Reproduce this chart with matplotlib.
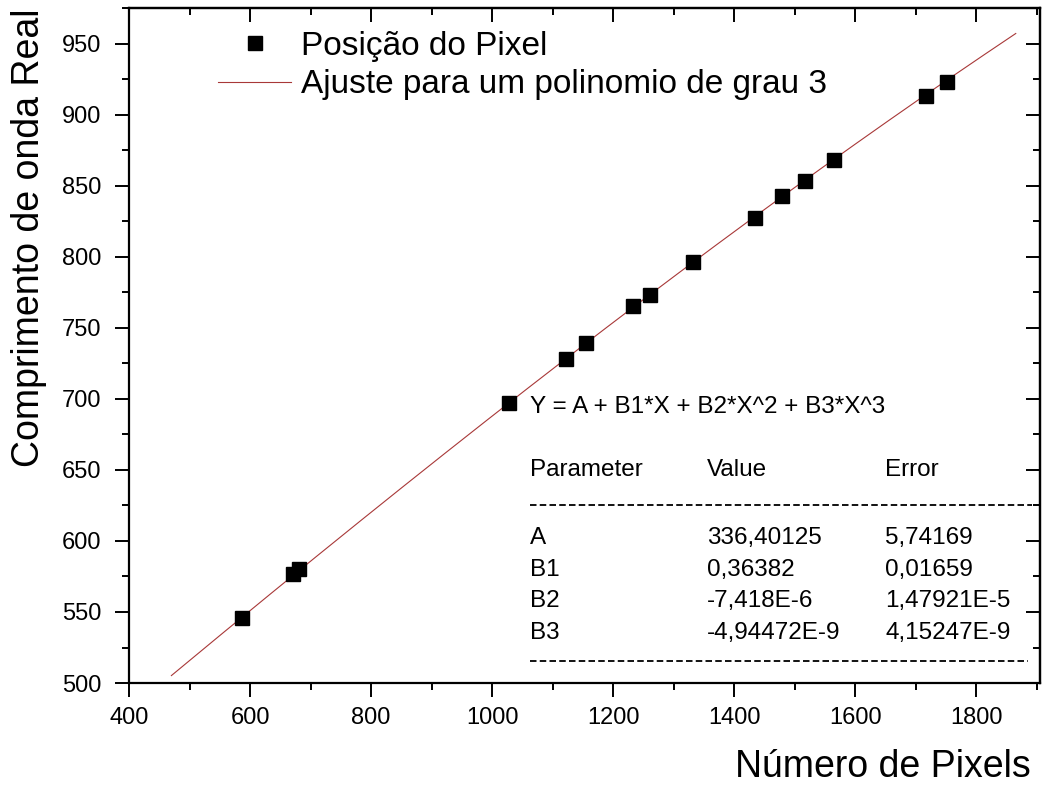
import numpy as np
import matplotlib
matplotlib.use("Agg")
import matplotlib.pyplot as plt
from matplotlib.ticker import MultipleLocator
from matplotlib.lines import Line2D

plt.rcParams['font.family'] = ['Liberation Sans', 'DejaVu Sans']

# ---- data ----
pixel_x = [587, 671, 681, 1027, 1122, 1155, 1233, 1261, 1331, 1435, 1479, 1517, 1564, 1717, 1752]
wavelength_y = [546, 577, 580, 697, 728, 739, 765, 773, 796, 827, 843, 853, 868, 913, 923]

param_names = ["A", "B1", "B2", "B3"]
param_values = [336.40125, 0.36382, -7.418e-6, -4.94472e-9]
param_value_text = ["336,40125", "0,36382", "-7,418E-6", "-4,94472E-9"]
param_error_text = ["5,74169", "0,01659", "1,47921E-5", "4,15247E-9"]
fit_range = [470, 1865]

equation = "Y = A + B1*X + B2*X^2 + B3*X^3"
legend_labels = ["Posição do Pixel", "Ajuste para um polinomio de grau 3"]
xlabel = "Número de Pixels"
ylabel = "Comprimento de onda Real"

# ---- figure ----
fig = plt.figure(figsize=(10.43, 7.90), dpi=100)
ax = fig.add_axes([0.1237, 0.1354, 0.9971 - 0.1237, 0.9899 - 0.1354])

xfit = np.linspace(fit_range[0], fit_range[1], 300)
yfit = np.polyval(param_values[::-1], xfit)

line_fit, = ax.plot(xfit, yfit, color='#a83838', lw=0.8, zorder=2)
pts, = ax.plot(pixel_x, wavelength_y, ls='none', marker='s', ms=9.5,
               color='black', mec='black', zorder=3)

ax.set_xlim(400, 1905)
ax.set_ylim(500, 975)
ax.xaxis.set_major_locator(MultipleLocator(200))
ax.xaxis.set_minor_locator(MultipleLocator(100))
ax.yaxis.set_major_locator(MultipleLocator(50))
ax.yaxis.set_minor_locator(MultipleLocator(25))

for s in ax.spines.values():
    s.set_linewidth(1.6)

ax.tick_params(which='both', direction='out', width=1.4, labelsize=17)
ax.tick_params(which='major', length=10)
ax.tick_params(which='minor', length=5)
ax.tick_params(axis='y', pad=10)
ax.tick_params(axis='x', pad=7)

# mirrored inward ticks on top and right
secx = ax.secondary_xaxis('top')
secx.xaxis.set_major_locator(MultipleLocator(200))
secx.xaxis.set_minor_locator(MultipleLocator(100))
secx.tick_params(which='both', direction='in', width=1.4, labeltop=False)
secx.tick_params(which='major', length=10)
secx.tick_params(which='minor', length=5)
secx.spines['top'].set_linewidth(1.6)

secy = ax.secondary_yaxis('right')
secy.yaxis.set_major_locator(MultipleLocator(50))
secy.yaxis.set_minor_locator(MultipleLocator(25))
secy.tick_params(which='both', direction='in', width=1.4, labelright=False)
secy.tick_params(which='major', length=10)
secy.tick_params(which='minor', length=5)
secy.spines['right'].set_linewidth(1.6)

ax.set_xlabel(xlabel, fontsize=27)
ax.xaxis.set_label_coords(0.828, -0.098)
ax.set_ylabel(ylabel, fontsize=27)
ax.yaxis.set_label_coords(-0.090, 0.659)

leg = ax.legend([pts, line_fit], legend_labels, loc='upper left',
                bbox_to_anchor=(0.0977, 0.966), frameon=False, fontsize=24,
                handlelength=2.2, handletextpad=0.3, borderpad=0,
                borderaxespad=0, labelspacing=0.22, numpoints=1)

# fit report
tkw = dict(transform=ax.transAxes, fontsize=17.5, va='center', ha='left')
ax.text(0.440, 0.409, equation, **tkw)
hdr_y = 0.316
ax.text(0.440, hdr_y, "Parameter", **tkw)
ax.text(0.6345, hdr_y, "Value", **tkw)
ax.text(0.830, hdr_y, "Error", **tkw)
row_y = [0.215, 0.168, 0.121, 0.074]
for name, v, e, yy in zip(param_names, param_value_text, param_error_text, row_y):
    ax.text(0.440, yy, name, **tkw)
    ax.text(0.6345, yy, v, **tkw)
    ax.text(0.830, yy, e, **tkw)

for yy, x1 in [(0.264, 0.991), (0.033, 0.987)]:
    ax.add_line(Line2D([0.440, x1], [yy, yy], transform=ax.transAxes,
                       color='black', lw=1.3, dashes=(3.6, 1.8)))

fig.savefig("out.png", dpi=100)
